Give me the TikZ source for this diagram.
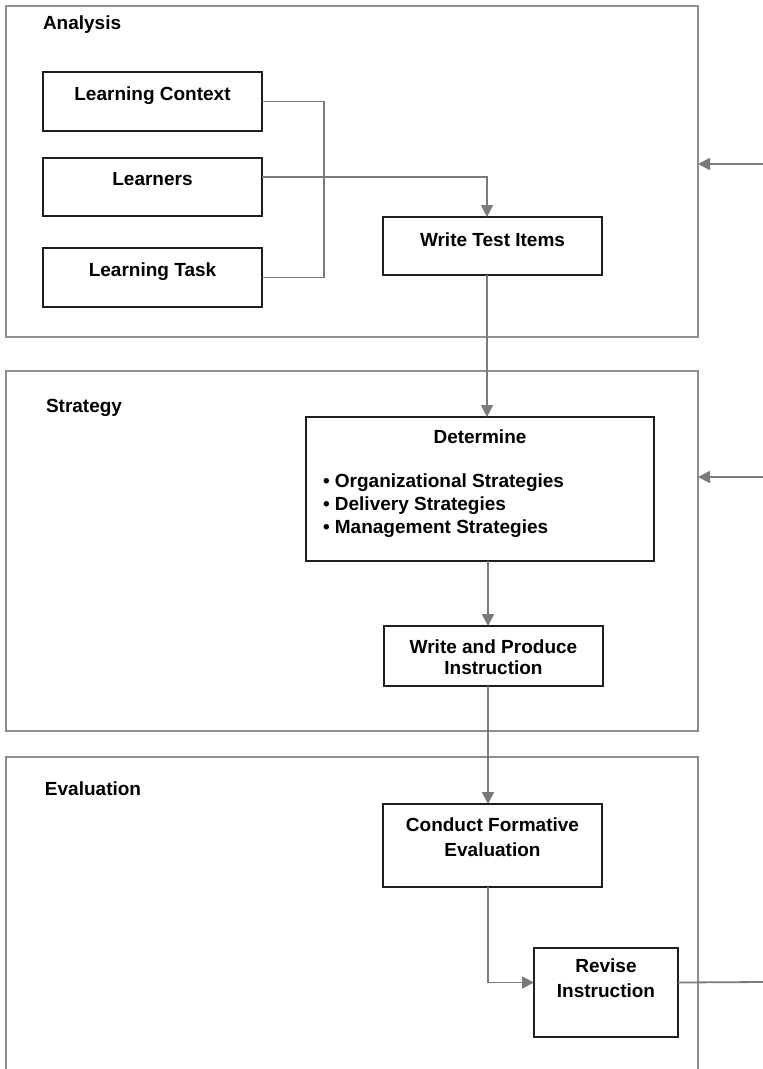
\documentclass[tikz,border=0pt]{standalone}
\usepackage{fontspec}
\setmainfont{Liberation Sans}
\usetikzlibrary{arrows.meta}
\definecolor{framegray}{HTML}{8E8E8E}
\definecolor{linegray}{HTML}{7A7A7A}
\definecolor{boxline}{HTML}{1E1E1E}
\begin{document}
\begin{tikzpicture}[x=1pt,y=-1pt,
  every node/.style={font=\fontsize{19}{23}\selectfont\bfseries, inner sep=0pt, outer sep=0pt},
  frame/.style={draw=framegray, line width=2pt, rectangle},
  stepbox/.style={draw=boxline, line width=1.8pt, rectangle},
  txt/.style={anchor=base, text=black},
  conn/.style={draw=linegray, line width=1.8pt},
  arr/.style={conn, -{Triangle[length=12pt,width=12pt]}}]
\useasboundingbox (0,0) rectangle (763,1069);

% phase frames
\node[frame, minimum width=692pt, minimum height=331pt] (af) at (352,171.5) {};
\node[frame, minimum width=692pt, minimum height=360pt] (sf) at (352,551) {};
\draw[framegray, line width=2pt] (6,1075) -- (6,757) -- (698,757) -- (698,1075);

% phase titles
\node[txt, anchor=base west] (labA) at (43,29) {Analysis};
\node[txt, anchor=base west] (labS) at (46,412) {Strategy};
\node[txt, anchor=base west] (labE) at (45,795) {Evaluation};

% analysis boxes
\node[stepbox, minimum width=219pt, minimum height=59pt] (lc) at (152.5,101.5) {};
\node[stepbox, minimum width=219pt, minimum height=58pt] (ln) at (152.5,187) {};
\node[stepbox, minimum width=219pt, minimum height=59pt] (lt) at (152.5,277.5) {};
\node[stepbox, minimum width=219pt, minimum height=58pt] (wti) at (492.5,246) {};
\node[txt] (lcT) at (152.5,100) {Learning Context};
\node[txt] (lnT) at (152.5,185) {Learners};
\node[txt] (ltT) at (152.5,276) {Learning Task};
\node[txt] (wtiT) at (492.5,246) {Write Test Items};

% strategy boxes
\node[stepbox, minimum width=348pt, minimum height=144pt] (det) at (480,489) {};
\node[txt] (detT) at (480,443) {Determine};
\node[txt, anchor=base west] (b1) at (323,487) {\textbullet\ Organizational Strategies};
\node[txt, anchor=base west] (b2) at (323,510) {\textbullet\ Delivery Strategies};
\node[txt, anchor=base west] (b3) at (323,533) {\textbullet\ Management Strategies};
\node[stepbox, minimum width=219pt, minimum height=60pt] (wp) at (493.5,656) {};
\node[txt] (wpT1) at (493.5,653) {Write and Produce};
\node[txt] (wpT2) at (493.5,674) {Instruction};

% evaluation boxes
\node[stepbox, minimum width=219pt, minimum height=83pt] (cf) at (492.5,845.5) {};
\node[txt] (cfT1) at (492.5,831) {Conduct Formative};
\node[txt] (cfT2) at (492.5,856) {Evaluation};
\node[stepbox, minimum width=144pt, minimum height=89pt] (rev) at (606,992.5) {};
\node[txt] (revT1) at (606,972) {Revise};
\node[txt] (revT2) at (606,997) {Instruction};

% spine and feedback points
\coordinate (spA) at (487,0);
\coordinate (spB) at (488,0);
\coordinate (fbA) at (763,164);
\coordinate (fbS) at (763,477);
\coordinate (fbE) at (763,982);

% connectors
\draw[conn] (lc.east) -- ++(62,0) |- (lt.east);
\draw[arr] ([yshift=10pt]ln.east) -| (wti.north -| spA);
\draw[arr] (wti.south -| spA) -- (det.north -| spA);
\draw[arr] (det.south -| spB) -- (wp.north -| spB);
\draw[arr] (wp.south -| spB) -- (cf.north -| spB);
\draw[arr] (cf.south -| spB) |- ([yshift=10pt]rev.west);
\draw[conn] ([yshift=10pt]rev.east) -- (fbE);
\draw[arr] (fbA) -- (fbA -| af.east);
\draw[arr] (fbS) -- (fbS -| sf.east);
\end{tikzpicture}
\end{document}
